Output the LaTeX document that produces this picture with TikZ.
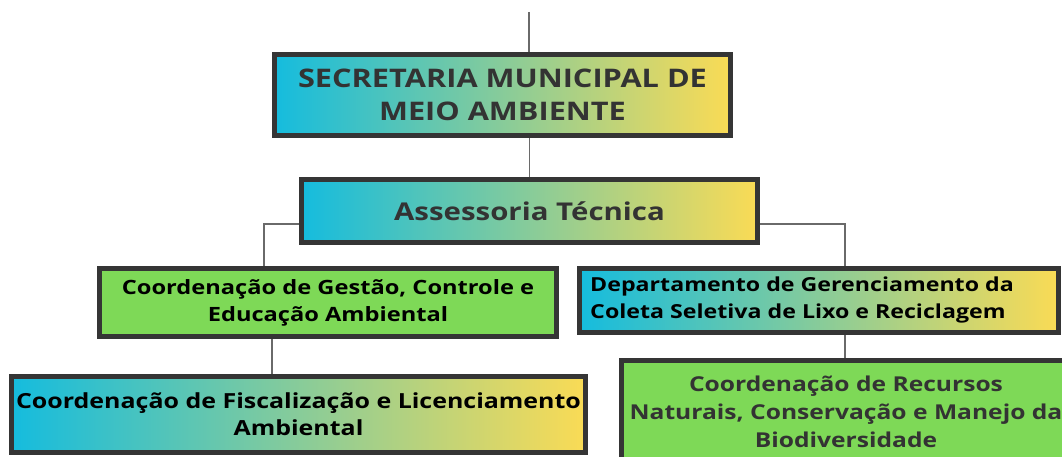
\documentclass[tikz,border=0pt]{standalone}
\usepackage{fontspec}
\setmainfont{Open Sans}[FakeStretch=1.2]
\definecolor{cy}{HTML}{15BCDE}
\definecolor{ye}{HTML}{FADB55}
\definecolor{gr}{HTML}{7ED957}
\definecolor{bd}{HTML}{353535}
\definecolor{ln}{HTML}{6A6A6A}
\definecolor{tx}{HTML}{333333}
\tikzset{
  x=1pt, y=-1pt,
  boxbase/.style={draw=bd, line width=5pt, inner sep=0pt, align=center, font=\bfseries},
  gradbox/.style={boxbase, left color=cy, right color=ye},
  greenbox/.style={boxbase, fill=gr},
  conn/.style={draw=ln, line width=1.4pt},
}
\begin{document}
\begin{tikzpicture}
\useasboundingbox (0,0) rectangle (1062,457);
\clip (0,0) rectangle (1062,457);
% boxes
\node[gradbox, minimum width=456pt, minimum height=81pt, text=tx, font=\bfseries\fontsize{25.6}{33}\selectfont] (b1) at (502.5,95) {SECRETARIA MUNICIPAL DE\\MEIO AMBIENTE};
\node[gradbox, minimum width=456pt, minimum height=63pt, text=tx, font=\bfseries\fontsize{24.5}{33}\selectfont] (b2) at (529.5,211) {Assessoria Técnica};
\node[greenbox, minimum width=457pt, minimum height=68pt, text=black, font=\bfseries\fontsize{19.7}{27}\selectfont] (b3) at (328,302.5) {Coordenação de Gestão, Controle e\\Educação Ambiental};
\node[gradbox, minimum width=479pt, minimum height=64pt] (b4) at (819,300.5) {};
\node[font=\bfseries\fontsize{19.3}{27}\selectfont, align=left, text=black, inner sep=0pt] (b4t) at (802,300) {Departamento de Gerenciamento da\\Coleta Seletiva de Lixo e Reciclagem};
\node[gradbox, minimum width=574pt, minimum height=76pt, text=black, font=\bfseries\fontsize{20.8}{27}\selectfont] (b5) at (298.5,414.5) {Coordenação de Fiscalização e Licenciamento\\Ambiental};
\node[greenbox, minimum width=449pt, minimum height=103pt, text=tx, font=\bfseries\fontsize{20.5}{28}\selectfont] (b6) at (846,412) {Coordenação de Recursos\\Naturais, Conservação e Manejo da\\Biodiversidade};
% connector coordinates
\coordinate (top) at (529,12);
\coordinate (xl) at (264,0);
\coordinate (xr) at (845,0);
\coordinate (x3) at (272,0);
% connectors
\draw[conn] (top) -- (top |- b1.north);
\draw[conn] (b2.north) -- (b2.north |- b1.south);
\draw[conn] ([yshift=-13pt]b2.west) -| (xl |- b3.north);
\draw[conn] ([yshift=-13pt]b2.east) -| (xr |- b4.north);
\draw[conn] (x3 |- b3.south) -- (x3 |- b5.north);
\draw[conn] (xr |- b4.south) -- (xr |- b6.north);
\end{tikzpicture}
\end{document}
